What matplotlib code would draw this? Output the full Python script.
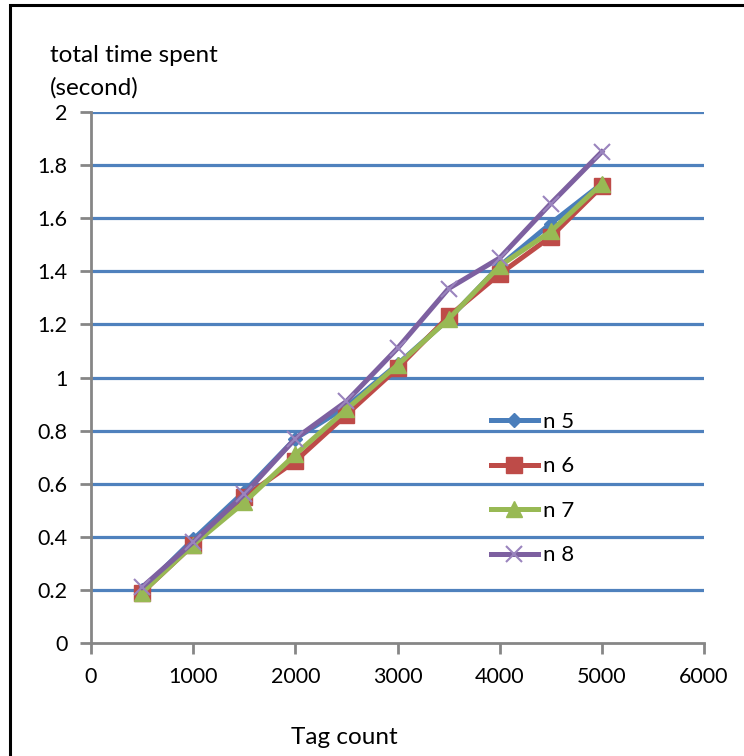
import matplotlib
matplotlib.use("Agg")
import matplotlib.pyplot as plt
from matplotlib.patches import Rectangle

tag_count = [500, 1000, 1500, 2000, 2500, 3000, 3500, 4000, 4500, 5000]
n5 = [0.20, 0.39, 0.57, 0.77, 0.89, 1.05, 1.22, 1.42, 1.58, 1.73]
n6 = [0.19, 0.37, 0.55, 0.685, 0.86, 1.035, 1.23, 1.39, 1.53, 1.72]
n7 = [0.19, 0.37, 0.53, 0.71, 0.88, 1.047, 1.22, 1.42, 1.55, 1.73]
n8 = [0.21, 0.38, 0.56, 0.77, 0.91, 1.11, 1.335, 1.45, 1.655, 1.85]
series_labels = ["n 5", "n 6", "n 7", "n 8"]
x_ticks = [0, 1000, 2000, 3000, 4000, 5000, 6000]
y_ticks = [0, 0.2, 0.4, 0.6, 0.8, 1, 1.2, 1.4, 1.6, 1.8, 2]
y_tick_labels = ["0", "0.2", "0.4", "0.6", "0.8", "1", "1.2", "1.4", "1.6", "1.8", "2"]

plt.rcParams['font.family'] = ['Lato', 'DejaVu Sans']

fig = plt.figure(figsize=(7.44, 7.56), dpi=100)
W, H = 744, 756
ax = fig.add_axes([91 / W, 1 - 643 / H, (704 - 91) / W, (643 - 112) / H])

# figure frame (left and top visible)
fig.patches.append(Rectangle((10 / W, -0.05), 1.2, (1 - 5 / H) + 0.05, transform=fig.transFigure,
                             fill=False, edgecolor='black', linewidth=2.2))

grid_c = '#4F81BD'
for y in y_ticks[1:]:
    ax.axhline(y, color=grid_c, linewidth=2.3, zorder=1)

lw = 3.6
ax.plot(tag_count, n5, color='#4A7EBB', linewidth=lw, marker='D', markersize=7, label=series_labels[0], zorder=3)
ax.plot(tag_count, n6, color='#BE4B48', linewidth=lw, marker='s', markersize=11.5, label=series_labels[1], zorder=3)
ax.plot(tag_count, n7, color='#98B954', linewidth=lw, marker='^', markersize=11.5, label=series_labels[2], zorder=4)
ax.plot(tag_count, n8, color='#7D60A0', linewidth=lw, marker='x', markersize=12, markeredgewidth=1.5,
        markeredgecolor='#9A84BE', label=series_labels[3], zorder=5)

ax.set_xlim(0, 6000)
ax.set_ylim(0, 2)
ax.set_xticks(x_ticks)
ax.set_xticklabels([str(v) for v in x_ticks])
ax.set_yticks(y_ticks)
ax.set_yticklabels(y_tick_labels)

for s in ['top', 'right']:
    ax.spines[s].set_visible(False)
for s in ['left', 'bottom']:
    ax.spines[s].set_color('#868686')
    ax.spines[s].set_linewidth(2.0)
ax.tick_params(axis='both', direction='out', length=8, width=2.0, color='#868686',
               labelsize=15.5, pad=9)

leg = ax.legend(loc='upper left', bbox_to_anchor=(380 / 613, (643 - 392) / 531), frameon=False,
                fontsize=16, handlelength=2.1, labelspacing=1.1, handletextpad=0.25)

fig.text(50 / W, 1 - 56 / H, "total time spent", fontsize=17.5, ha='left', va='center')
fig.text(50 / W, 1 - 88 / H, "(second)", fontsize=17.5, ha='left', va='center')
fig.text(344 / W, 1 - 738 / H, "Tag count", fontsize=17.5, ha='center', va='center')

fig.savefig("out.png", dpi=100)
